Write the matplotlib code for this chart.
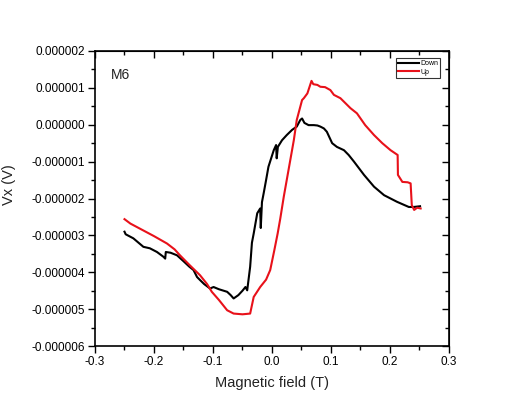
import matplotlib
matplotlib.use("Agg")
import matplotlib.pyplot as plt
from matplotlib.ticker import FuncFormatter, MultipleLocator

plt.rcParams['font.family'] = ['Liberation Sans', 'DejaVu Sans']

# "Down" sweep: field (T), voltage (uV)
down_field = [-0.250, -0.248, -0.235, -0.218, -0.207, -0.195, -0.184, -0.181, -0.180,
              -0.172, -0.161, -0.150, -0.140, -0.133, -0.127, -0.122, -0.115, -0.105,
              -0.099, -0.090, -0.076, -0.070, -0.065, -0.057, -0.050, -0.045, -0.042,
              -0.037, -0.034, -0.031, -0.025, -0.020, -0.019, -0.017, -0.014, -0.010,
              -0.006, 0.003, 0.007, 0.008, 0.010, 0.017, 0.025, 0.034, 0.042, 0.048,
              0.051, 0.055, 0.062, 0.071, 0.077, 0.082, 0.088, 0.093, 0.102, 0.110,
              0.122, 0.130, 0.139, 0.156, 0.173, 0.190, 0.212, 0.232, 0.240, 0.251]
down_uv = [-2.90, -2.97, -3.08, -3.31, -3.35, -3.45, -3.58, -3.63, -3.45,
           -3.47, -3.54, -3.70, -3.85, -3.94, -4.13, -4.21, -4.32, -4.44,
           -4.40, -4.46, -4.53, -4.62, -4.71, -4.62, -4.50, -4.40, -4.49,
           -3.85, -3.20, -2.95, -2.40, -2.27, -2.80, -2.10, -1.85, -1.50,
           -1.14, -0.69, -0.55, -0.91, -0.60, -0.42, -0.28, -0.14, -0.05, 0.13,
           0.17, 0.05, -0.01, -0.01, -0.02, -0.05, -0.10, -0.19, -0.50, -0.60,
           -0.69, -0.82, -1.00, -1.36, -1.68, -1.91, -2.09, -2.23, -2.23, -2.21]

# "Up" sweep: field (T), voltage (uV)
up_field = [-0.250, -0.240, -0.220, -0.200, -0.178, -0.165, -0.156, -0.140, -0.122,
            -0.110, -0.102, -0.090, -0.076, -0.065, -0.050, -0.037, -0.031, -0.020,
            -0.010, -0.003, 0.004, 0.0096, 0.014, 0.020, 0.028, 0.037, 0.042, 0.051,
            0.054, 0.060, 0.067, 0.070, 0.077, 0.082, 0.090, 0.099, 0.105, 0.116,
            0.133, 0.144, 0.158, 0.173, 0.187, 0.201, 0.213, 0.2135, 0.221, 0.230,
            0.235, 0.237, 0.241, 0.246, 0.252]
up_uv = [-2.56, -2.68, -2.85, -3.02, -3.22, -3.38, -3.54, -3.80, -4.08,
         -4.32, -4.53, -4.75, -5.03, -5.12, -5.14, -5.12, -4.67, -4.40,
         -4.20, -3.94, -3.40, -2.95, -2.55, -1.95, -1.23, -0.42, 0.13, 0.67,
         0.72, 0.85, 1.19, 1.10, 1.08, 1.03, 1.02, 0.94, 0.81, 0.72,
         0.45, 0.31, -0.01, -0.28, -0.50, -0.69, -0.82, -1.36, -1.55, -1.56,
         -1.59, -2.18, -2.31, -2.25, -2.27]

x_ticks = [-0.3, -0.2, -0.1, 0.0, 0.1, 0.2, 0.3]
y_ticks = [-6e-6, -5e-6, -4e-6, -3e-6, -2e-6, -1e-6, 0.0, 1e-6, 2e-6]

fig = plt.figure(figsize=(5.24, 4.18), dpi=100)
ax = fig.add_axes([0.1813, 0.1722, 0.6755, 0.7058])

ax.plot(down_field, [v * 1e-6 for v in down_uv], color='black', lw=1.5, label='Down')
ax.plot(up_field, [v * 1e-6 for v in up_uv], color='#e8111a', lw=1.5, label='Up')

ax.set_xlim(-0.3, 0.3)
ax.set_ylim(-6e-6, 2e-6)
ax.set_xticks(x_ticks)
ax.set_yticks(y_ticks)
ax.xaxis.set_minor_locator(MultipleLocator(0.05))
ax.yaxis.set_minor_locator(MultipleLocator(0.5e-6))
ax.xaxis.set_major_formatter(FuncFormatter(lambda v, p: f"{v:.1f}"))
ax.yaxis.set_major_formatter(FuncFormatter(lambda v, p: f"{v:.6f}"))

ax.tick_params(which='major', direction='out', length=5, width=1, labelsize=8.5,
               top=False, right=False, pad=2)
ax.tick_params(which='minor', direction='out', length=3, width=1, top=False, right=False)

# top / right axes with inward ticks, no labels
axt = ax.secondary_xaxis('top')
axt.set_xticks(x_ticks)
axt.xaxis.set_minor_locator(MultipleLocator(0.05))
axt.tick_params(which='major', direction='in', length=5, width=1, labeltop=False)
axt.tick_params(which='minor', direction='in', length=3, width=1)
axr = ax.secondary_yaxis('right')
axr.set_yticks(y_ticks)
axr.yaxis.set_minor_locator(MultipleLocator(0.5e-6))
axr.tick_params(which='major', direction='in', length=5, width=1, labelright=False)
axr.tick_params(which='minor', direction='in', length=3, width=1)

for s in ax.spines.values():
    s.set_linewidth(1.2)

ax.set_xlabel('Magnetic field (T)', fontsize=10.5, color='#222222', labelpad=6)
ax.set_ylabel('Vx (V)', fontsize=10.5, color='#222222')
ax.yaxis.set_label_coords(-0.222, 0.546)

ax.text(0.045, 0.92, 'M6', transform=ax.transAxes, fontsize=10, color='#222222',
        va='center', ha='left')

leg = ax.legend(loc='upper right', bbox_to_anchor=(0.975, 0.975), fontsize=5,
                frameon=True, fancybox=False, handlelength=3, handletextpad=0.2,
                borderpad=0.3, labelspacing=0.2, borderaxespad=0)
leg.get_frame().set_edgecolor('black')
leg.get_frame().set_linewidth(0.8)

fig.savefig('out.png', dpi=100)
